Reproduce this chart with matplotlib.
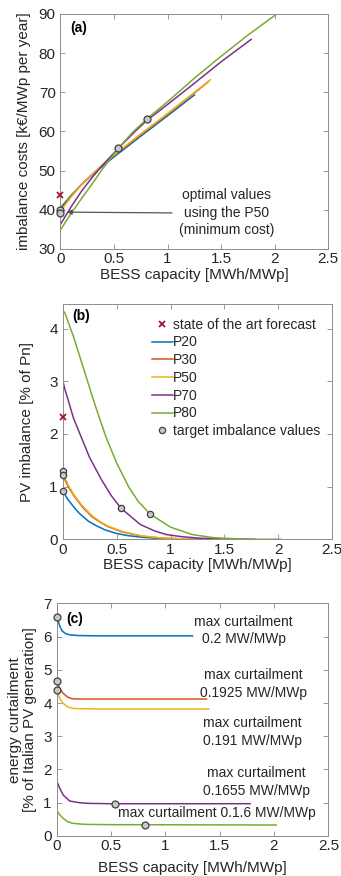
import matplotlib
matplotlib.use("Agg")
import matplotlib.pyplot as plt

plt.rcParams['font.family'] = ['Liberation Sans', 'DejaVu Sans']

# ---------------- data ----------------
C_P20 = '#0072BD'
C_P30 = '#D95319'
C_P50 = '#EDB120'
C_P70 = '#7E2F8E'
C_P80 = '#77AC30'
C_X = '#A2142F'

# panel (a) imbalance costs
a_x_p20 = [0, 0.1, 0.2, 0.3, 0.4, 0.5, 0.75, 1.0, 1.25]
a_y_p20 = [40.5, 43.7, 46.5, 49.0, 51.3, 53.5, 58.8, 64.0, 69.3]
a_x_p30 = [0, 0.1, 0.2, 0.3, 0.4, 0.5, 0.75, 1.0, 1.25, 1.38]
a_y_p30 = [40.0, 43.5, 46.6, 49.2, 51.6, 53.9, 59.2, 64.4, 69.8, 72.7]
a_x_p50 = [0, 0.1, 0.2, 0.3, 0.4, 0.5, 0.75, 1.0, 1.25, 1.40]
a_y_p50 = [39.6, 43.3, 46.5, 49.2, 51.7, 54.0, 59.4, 64.6, 70.0, 73.2]
a_x_p70 = [0, 0.1, 0.2, 0.3, 0.4, 0.54, 0.7, 0.81, 1.0, 1.25, 1.5, 1.78]
a_y_p70 = [36.3, 40.8, 44.9, 48.4, 51.6, 55.7, 60.1, 62.9, 66.9, 72.3, 77.8, 83.5]
a_x_p80 = [0, 0.1, 0.2, 0.3, 0.4, 0.54, 0.67, 0.81, 1.0, 1.25, 1.5, 1.75, 2.02]
a_y_p80 = [34.9, 39.1, 43.0, 46.8, 50.7, 55.7, 59.7, 63.3, 67.6, 73.6, 79.2, 84.6, 90.0]
a_sota_x, a_sota_y = [0], [43.8]
a_target_x = [0, 0, 0.54, 0.81]
a_target_y = [40.0, 39.1, 55.8, 63.3]

# panel (b) PV imbalance
b_x_p20 = [0, 0.05, 0.1, 0.15, 0.24, 0.3, 0.39, 0.5, 0.6, 0.75, 0.9, 1.05, 1.25]
b_y_p20 = [0.92, 0.75, 0.62, 0.5, 0.34, 0.27, 0.18, 0.11, 0.07, 0.035, 0.015, 0.005, 0]
b_x_p30 = [0, 0.05, 0.11, 0.18, 0.27, 0.35, 0.42, 0.55, 0.73, 0.9, 1.1, 1.38]
b_y_p30 = [1.22, 1.0, 0.81, 0.62, 0.43, 0.32, 0.24, 0.14, 0.06, 0.025, 0.008, 0]
b_x_p50 = [0, 0.05, 0.11, 0.18, 0.27, 0.35, 0.42, 0.55, 0.73, 0.9, 1.1, 1.40]
b_y_p50 = [1.27, 1.03, 0.83, 0.64, 0.45, 0.33, 0.25, 0.15, 0.065, 0.028, 0.009, 0]
b_x_p70 = [0, 0.02, 0.05, 0.1, 0.16, 0.25, 0.36, 0.45, 0.54, 0.65, 0.72, 0.85, 0.96, 1.1, 1.27, 1.5, 1.78]
b_y_p70 = [3.02, 2.85, 2.65, 2.3, 2.0, 1.55, 1.13, 0.83, 0.59, 0.4, 0.28, 0.16, 0.09, 0.05, 0.02, 0.005, 0]
b_x_p80 = [0, 0.02, 0.1, 0.2, 0.3, 0.4, 0.5, 0.61, 0.7, 0.81, 1.0, 1.2, 1.4, 1.6, 1.8, 2.02]
b_y_p80 = [4.35, 4.3, 3.85, 3.2, 2.55, 1.95, 1.45, 1.0, 0.72, 0.48, 0.23, 0.09, 0.03, 0.01, 0.0, 0.0]
b_sota_x, b_sota_y = [0], [2.33]
b_target_x = [0, 0, 0, 0.54, 0.81]
b_target_y = [1.30, 1.23, 0.92, 0.59, 0.48]

# panel (c) energy curtailment
c_x_p20 = [0, 0.01, 0.03, 0.05, 0.08, 0.12, 0.2, 0.4, 1.25]
c_y_p20 = [6.58, 6.5, 6.3, 6.17, 6.09, 6.05, 6.03, 6.02, 6.02]
c_x_p30 = [0, 0.01, 0.03, 0.06, 0.1, 0.14, 0.2, 0.4, 1.38]
c_y_p30 = [4.67, 4.58, 4.42, 4.29, 4.18, 4.13, 4.12, 4.12, 4.12]
c_x_p50 = [0, 0.01, 0.03, 0.06, 0.1, 0.15, 0.2, 0.4, 1.40]
c_y_p50 = [4.39, 4.3, 4.12, 3.99, 3.88, 3.84, 3.83, 3.82, 3.82]
c_x_p70 = [0, 0.01, 0.03, 0.06, 0.12, 0.21, 0.3, 0.5, 1.78]
c_y_p70 = [1.63, 1.58, 1.42, 1.23, 1.05, 1.0, 0.98, 0.97, 0.97]
c_x_p80 = [0, 0.01, 0.03, 0.06, 0.1, 0.15, 0.25, 0.5, 2.02]
c_y_p80 = [0.75, 0.72, 0.63, 0.53, 0.43, 0.38, 0.35, 0.34, 0.33]
c_target_x = [0, 0, 0, 0.54, 0.81]
c_target_y = [6.58, 4.67, 4.39, 0.97, 0.34]

c_notes = ["max curtailment\n0.2 MW/MWp",
           "max curtailment\n0.1925 MW/MWp",
           "max curtailment\n0.191 MW/MWp",
           "max curtailment\n0.1655 MW/MWp",
           "max curtailment 0.1.6 MW/MWp"]
c_note_pos = [(1.72, 6.18), (1.81, 4.57), (1.80, 3.14), (1.84, 1.63), (1.47, 0.68)]

# ---------------- style ----------------
TXT = '#262626'
AX = '#8c8c8c'
FS = 11
NFS = 10
LW = 1.1
MK = dict(marker='o', ls='none', ms=5, mfc='#c8c8c8', mec='#404040', mew=0.9, zorder=5)

fig = plt.figure(figsize=(3.41, 8.76), dpi=100)


def style(ax, ylim, yticks, xlab_y, ylab_x):
    ax.set_xlim(0, 2.5)
    ax.set_ylim(*ylim)
    ax.set_xticks([0, 0.5, 1, 1.5, 2, 2.5])
    ax.set_xticklabels(['0', '0.5', '1', '1.5', '2', '2.5'])
    ax.set_yticks(yticks)
    ax.tick_params(direction='in', top=True, right=True, length=3.5, width=0.6,
                   color=AX, labelcolor=TXT, labelsize=FS)
    ax.tick_params(axis='x', pad=2.5)
    ax.tick_params(axis='y', pad=3.5)
    for s in ax.spines.values():
        s.set_color(AX)
        s.set_linewidth(0.7)
    ax.set_xlabel('BESS capacity [MWh/MWp]', fontsize=FS, color=TXT, va='center')
    ax.xaxis.set_label_coords(0.5, xlab_y)
    ax.yaxis.set_label_coords(ylab_x, 0.5)


# ---- (a)
axa = fig.add_axes([0.1774, 0.7158, 0.7853, 0.2683])
axa.plot(a_x_p20, a_y_p20, color=C_P20, lw=LW)
axa.plot(a_x_p30, a_y_p30, color=C_P30, lw=LW)
axa.plot(a_x_p50, a_y_p50, color=C_P50, lw=LW)
axa.plot(a_x_p70, a_y_p70, color=C_P70, lw=LW)
axa.plot(a_x_p80, a_y_p80, color=C_P80, lw=LW)
axa.plot(a_sota_x, a_sota_y, ls='none', marker='x', color=C_X, ms=5, mew=1.3, clip_on=False, zorder=6)
axa.plot(a_target_x, a_target_y, clip_on=False, **MK)
axa.set_ylabel('imbalance costs [k€/MWp per year]', fontsize=FS, color=TXT, va='center')
style(axa, (30, 90), [30, 40, 50, 60, 70, 80, 90], -0.111, -0.135)
axa.text(0.09, 86.3, '(a)', fontsize=FS - 1, fontweight='bold', color='black', va='center')
axa.annotate('', xy=(0.06, 39.4), xytext=(1.04, 39.2),
             arrowprops=dict(arrowstyle='-|>', color='#555555', lw=0.9,
                             mutation_scale=7, shrinkA=0, shrinkB=0))
axa.text(1.55, 39.3, 'optimal values\nusing the P50\n(minimum cost)', fontsize=NFS,
         color=TXT, ha='center', va='center', linespacing=1.3)

# ---- (b)
axb = fig.add_axes([0.1839, 0.3844, 0.7906, 0.2686])
axb.plot(b_sota_x, b_sota_y, ls='none', marker='x', color=C_X, ms=5, mew=1.3, clip_on=False, zorder=6,
         label='state of the art forecast')
axb.plot(b_x_p20, b_y_p20, color=C_P20, lw=LW, label='P20')
axb.plot(b_x_p30, b_y_p30, color=C_P30, lw=LW, label='P30')
axb.plot(b_x_p50, b_y_p50, color=C_P50, lw=LW, label='P50')
axb.plot(b_x_p70, b_y_p70, color=C_P70, lw=LW, label='P70')
axb.plot(b_x_p80, b_y_p80, color=C_P80, lw=LW, label='P80')
axb.plot(b_target_x, b_target_y, clip_on=False, label='target imbalance values', **dict(MK, ms=4.5))
axb.set_ylabel('PV imbalance [% of Pn]', fontsize=FS, color=TXT, va='center')
style(axb, (0, 4.47), [0, 1, 2, 3, 4], -0.109, -0.1335)
axb.text(0.09, 4.24, '(b)', fontsize=FS - 1, fontweight='bold', color='black', va='center')
leg = axb.legend(loc='upper left', bbox_to_anchor=(0.330, 0.942), frameon=False, fontsize=NFS,
                 handlelength=1.5, handletextpad=0.05, labelspacing=0.27, borderaxespad=0.0,
                 borderpad=0.0)
for t in leg.get_texts():
    t.set_color(TXT)

# ---- (c)
axc = fig.add_axes([0.1663, 0.0457, 0.7965, 0.2656])
axc.plot(c_x_p20, c_y_p20, color=C_P20, lw=LW)
axc.plot(c_x_p30, c_y_p30, color=C_P30, lw=LW)
axc.plot(c_x_p50, c_y_p50, color=C_P50, lw=LW)
axc.plot(c_x_p70, c_y_p70, color=C_P70, lw=LW)
axc.plot(c_x_p80, c_y_p80, color=C_P80, lw=LW)
axc.plot(c_target_x, c_target_y, clip_on=False, **MK)
axc.set_ylabel('energy curtailment\n[% of Italian PV generation]', fontsize=FS, color=TXT,
               va='center', linespacing=1.1)
style(axc, (0, 7), [0, 1, 2, 3, 4, 5, 6, 7], -0.1375, -0.126)
axc.text(0.09, 6.52, '(c)', fontsize=FS - 1, fontweight='bold', color='black', va='center')
for note, (nx, ny) in zip(c_notes, c_note_pos):
    axc.text(nx, ny, note, fontsize=NFS, color=TXT, ha='center', va='center', linespacing=1.35)

fig.savefig('out.png', dpi=100)
